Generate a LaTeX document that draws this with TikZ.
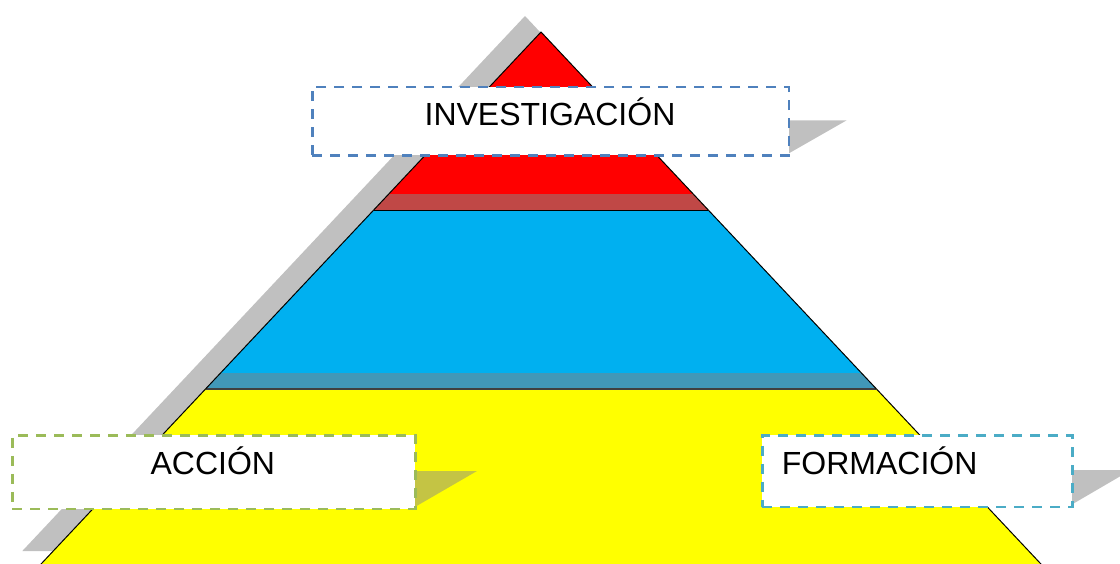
\documentclass[tikz,border=0pt]{standalone}
\usepackage{fontspec}
\setmainfont{Liberation Sans}
\definecolor{shadowgray}{RGB}{192,192,192}
\definecolor{pyrred}{RGB}{255,0,0}
\definecolor{redband}{RGB}{192,72,70}
\definecolor{pyrblue}{RGB}{0,176,240}
\definecolor{blueband}{RGB}{65,152,184}
\definecolor{pyryellow}{RGB}{255,255,0}
\definecolor{olive}{RGB}{196,196,68}
\definecolor{invblue}{RGB}{79,129,189}
\definecolor{accgreen}{RGB}{155,187,89}
\definecolor{forteal}{RGB}{75,172,198}
\tikzset{
  labelbox/.style={draw, fill=white, line width=2.7pt, dash pattern=on 10pt off 8pt, inner sep=0pt},
  labeltext/.style={font=\fontsize{32}{38}\selectfont, text=black, inner sep=0pt},
  edgeline/.style={draw=black, line width=1pt},
}
\begin{document}
\begin{tikzpicture}[x=1pt,y=-1pt]
\useasboundingbox (0,0) rectangle (1120,563);
\clip (0,0) rectangle (1120,563);
% pyramid shadow
\fill[shadowgray] (525,16) -- (1027.7,551) -- (22.3,551) -- cycle;
% pyramid layers
\coordinate (apex) at (541,32);
\coordinate (bl) at (37.3,568);
\coordinate (br) at (1044.7,568);
\begin{scope}
  \clip (apex) -- (br) -- (bl) -- cycle;
  \fill[pyryellow] (0,0) rectangle (1120,570);
  \fill[pyrred] (0,0) rectangle (1120,194);
  \fill[redband] (0,194) rectangle (1120,210);
  \fill[pyrblue] (0,210) rectangle (1120,373.3);
  \fill[blueband] (0,373.3) rectangle (1120,388.7);
\end{scope}
\coordinate (l1) at (373.7,210);
\coordinate (r1) at (708.3,210);
\coordinate (l2) at (205.8,388.7);
\coordinate (r2) at (876.2,388.7);
\draw[black, line width=1pt] (l1) -- (r1);
\draw[black!75, line width=1.6pt] (l2) -- (r2);
\draw[edgeline] (bl) -- (apex) -- (br);
% label box shadows
\fill[shadowgray] (787.7,120.3) -- (846.7,120.3) -- (787.7,154) -- cycle;
\fill[olive] (414,471) -- (477,471) -- (414,507.5) -- cycle;
\fill[shadowgray] (1071,470) -- (1131,470) -- (1071,505) -- cycle;
% label boxes
\node[labelbox, draw=invblue, minimum width=476.7pt, minimum height=68.3pt, anchor=north west] (boxInv) at (311,85.7) {};
\node[labelbox, draw=accgreen, minimum width=403pt, minimum height=73.5pt, anchor=north west] (boxAcc) at (11,434) {};
\node[labelbox, draw=forteal, minimum width=310pt, minimum height=71.5pt, anchor=north west] (boxFor) at (761,434) {};
% texts
\node[labeltext, anchor=base] (txtInv) at (550,125.7) {INVESTIGACIÓN};
\node[labeltext, anchor=base] (txtAcc) at (212.8,474.3) {ACCIÓN};
\node[labeltext, anchor=base west] (txtFor) at (781.7,474.3) {FORMACIÓN};
\end{tikzpicture}
\end{document}
